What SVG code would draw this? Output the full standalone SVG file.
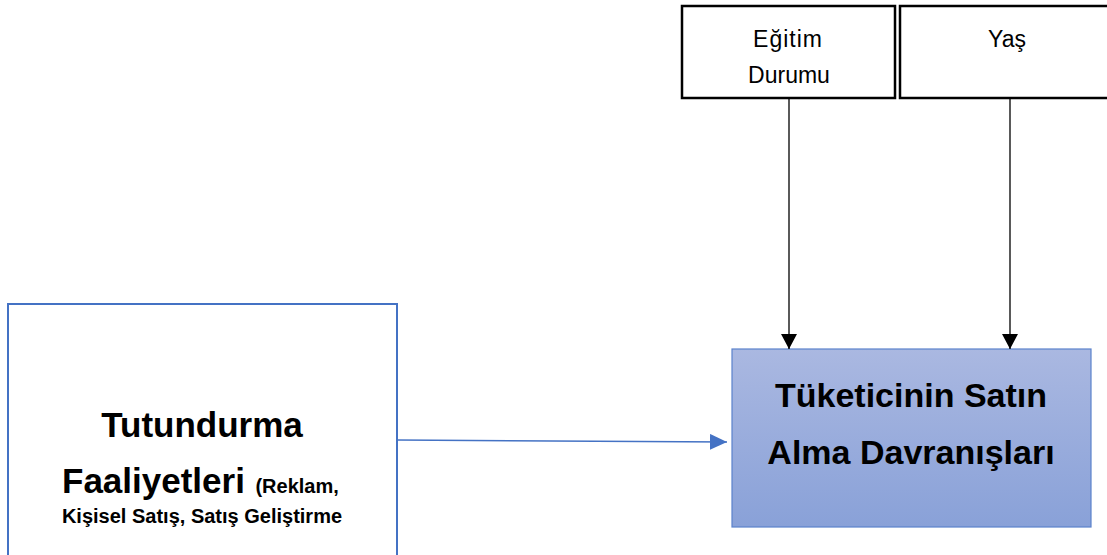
<svg xmlns="http://www.w3.org/2000/svg" width="1107" height="555" viewBox="0 0 1107 555">
  <style>
    .box { fill: #ffffff; stroke: #000000; stroke-width: 2.5; }
    .small { font-family: "Liberation Sans", Arial, sans-serif; font-size: 23px; fill: #000; text-anchor: middle; }
    .big { font-family: "Liberation Sans", Arial, sans-serif; font-size: 35px; font-weight: bold; fill: #000; }
    .sub { font-family: "Liberation Sans", Arial, sans-serif; font-size: 20px; font-weight: bold; fill: #000; }
    .mid { text-anchor: middle; }
    .blk { stroke: #000; stroke-width: 1.3; fill: none; }
    .blu { stroke: #4472C4; stroke-width: 1.5; fill: none; }
  </style>
  <defs>
    <linearGradient id="g" x1="0" y1="0" x2="0" y2="1">
      <stop offset="0" stop-color="#AAB8E1"/>
      <stop offset="1" stop-color="#89A1D8"/>
    </linearGradient>
    <marker id="ab" markerUnits="userSpaceOnUse" markerWidth="16" markerHeight="16" refX="15" refY="8" orient="auto">
      <path d="M0,0 L15,8 L0,16 Z" fill="#000"/>
    </marker>
    <marker id="au" markerUnits="userSpaceOnUse" markerWidth="18" markerHeight="16" refX="17" refY="8" orient="auto">
      <path d="M0,0 L17,8 L0,16 Z" fill="#4472C4"/>
    </marker>
  </defs>

  <g id="node-egitim">
    <rect class="box" x="682" y="6" width="213" height="92"/>
    <text class="small" x="788" y="47" letter-spacing="1">Eğitim</text>
    <text class="small" x="789" y="83">Durumu</text>
  </g>

  <g id="node-yas">
    <rect class="box" x="900" y="6" width="215" height="92"/>
    <text class="small" x="1007" y="47">Yaş</text>
  </g>

  <g id="node-tutundurma">
    <rect x="8" y="304" width="389" height="270" fill="#ffffff" stroke="#4472C4" stroke-width="2"/>
    <text class="big mid" x="202" y="437">Tutundurma</text>
    <text x="62" y="493"><tspan class="big">Faaliyetleri</tspan><tspan class="sub" dx="5"> (Reklam,</tspan></text>
    <text class="sub mid" x="202" y="523">Kişisel Satış, Satış Geliştirme</text>
  </g>

  <g id="node-tuketici">
    <rect x="732" y="349" width="359" height="178" fill="url(#g)" stroke="#5B82CC" stroke-width="1.2"/>
    <text class="big mid" x="911" y="407" style="font-size:34px">Tüketicinin Satın</text>
    <text class="big mid" x="911" y="464" style="font-size:34px">Alma Davranışları</text>
  </g>

  <g id="connectors">
    <line class="blk" x1="789" y1="99" x2="789" y2="349" marker-end="url(#ab)"/>
    <line class="blk" x1="1010" y1="99" x2="1010" y2="349" marker-end="url(#ab)"/>
    <line class="blu" x1="397" y1="440" x2="727" y2="442" marker-end="url(#au)"/>
  </g>
</svg>
